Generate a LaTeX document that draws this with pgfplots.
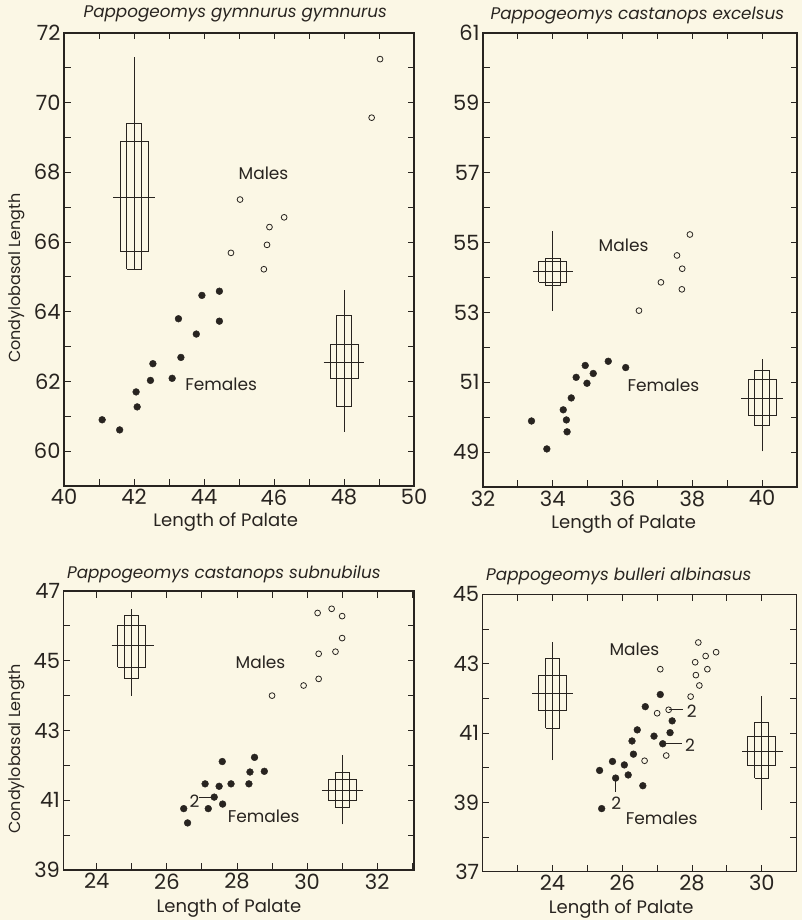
\documentclass[border=0pt]{standalone}
\usepackage{fontspec}
\setmainfont{Poppins}
\usepackage{pgfplots}
\pgfplotsset{compat=1.18}
\definecolor{paper}{RGB}{251,247,229}
\definecolor{ink}{RGB}{40,36,32}
\pgfplotsset{
  panel/.style={
    scale only axis, anchor=south west,
    axis line style={ink, line width=1.1pt},
    every tick/.style={ink, line width=0.9pt},
    major tick length=6.5pt, minor tick length=6.5pt,
    tick align=inside,
    /pgf/number format/assume math mode=true,
    tick label style={font=\fontsize{21}{23}\selectfont, text=ink},
    xlabel style={font=\fontsize{18}{20}\selectfont, text=ink},
    ylabel style={font=\fontsize{16}{18}\selectfont, text=ink},
    title style={font=\fontsize{16.8}{19}\selectfont\itshape, text=ink, anchor=base west},
  },
  fem/.style={only marks, mark=*, mark size=3.4pt, color=ink, mark options={fill=ink, draw=ink}},
  mal/.style={only marks, mark=o, mark size=2.9pt, color=ink, mark options={line width=0.8pt}},
  dh/.style={color=ink, line width=0.9pt, no marks},
}
\newcommand{\lab}{\fontsize{17}{20}\selectfont\color{ink}}
\begin{document}
\begin{tikzpicture}
\path[use as bounding box, fill=paper] (0,0) rectangle (802pt,920pt);

% ---------- Panel 1
\begin{axis}[panel, at={(64pt,434pt)}, width=350pt, height=453pt,
  xmin=40, xmax=50, ymin=59, ymax=72,
  xtick={40,42,...,50}, minor xtick={41,43,...,49},
  ytick={60,62,...,72}, minor ytick={59,61,...,71},
  title={Pappogeomys gymnurus gymnurus},
  title style={at={([xshift=16pt,yshift=9pt]axis description cs:0,1)}},
  xlabel={Length of Palate},
  xlabel style={at={([yshift=-40.7pt]axis description cs:0.462,0)}, anchor=base},
  ylabel={Condylobasal Length},
  ylabel style={at={([xshift=-47pt]axis description cs:0,0.459)}, anchor=center}]
\addplot[mal] coordinates {(49.03,71.25) (48.79,69.57) (45.03,67.22) (46.29,66.71) (45.87,66.43) (44.77,65.69) (45.80,65.92) (45.71,65.22)};
\addplot[fem] coordinates {(41.09,60.90) (41.59,60.61) (42.06,61.70) (42.09,61.27) (42.47,62.03) (42.54,62.51) (43.09,62.09) (43.34,62.69) (43.27,63.80) (43.78,63.36) (43.94,64.47) (44.44,64.59) (44.44,63.73)};
% males box
\addplot[dh] coordinates {(42,65.22) (42,71.30)};
\addplot[dh] coordinates {(41.4,67.28) (42.6,67.28)};
\addplot[dh] coordinates {(41.6,65.73) (42.4,65.73) (42.4,68.89) (41.6,68.89) (41.6,65.73)};
\addplot[dh] coordinates {(41.79,65.22) (42.21,65.22) (42.21,69.39) (41.79,69.39) (41.79,65.22)};
% females box
\addplot[dh] coordinates {(48,60.56) (48,64.63)};
\addplot[dh] coordinates {(47.42,62.55) (48.58,62.55)};
\addplot[dh] coordinates {(47.6,62.08) (48.4,62.08) (48.4,63.05) (47.6,63.05) (47.6,62.08)};
\addplot[dh] coordinates {(47.79,61.28) (48.21,61.28) (48.21,63.88) (47.79,63.88) (47.79,61.28)};
\node[font=\lab] at (axis cs:45.7,67.98) {Males};
\node[font=\lab] at (axis cs:44.49,61.91) {Females};
\end{axis}

% ---------- Panel 2
\begin{axis}[panel, at={(483pt,433pt)}, width=314pt, height=454pt,
  xmin=32, xmax=41, ymin=48, ymax=61,
  xtick={32,34,...,40}, minor xtick={33,35,...,41},
  ytick={49,51,...,61}, minor ytick={48,50,...,60},
  title={Pappogeomys castanops excelsus},
  title style={at={([xshift=4pt,yshift=7pt]axis description cs:0,1)}},
  xlabel={Length of Palate},
  xlabel style={at={([yshift=-41.3pt]axis description cs:0.448,0)}, anchor=base}]
\addplot[mal] coordinates {(37.93,55.23) (37.56,54.63) (37.71,54.25) (37.10,53.86) (37.70,53.66) (36.47,53.05)};
\addplot[fem] coordinates {(33.39,49.89) (33.83,49.09) (34.30,50.21) (34.39,49.92) (34.41,49.58) (34.53,50.55) (34.67,51.14) (34.93,51.48) (34.98,50.97) (35.16,51.25) (35.59,51.60) (36.09,51.42)};
\addplot[dh] coordinates {(34,53.04) (34,55.32)};
\addplot[dh] coordinates {(33.42,54.16) (34.58,54.16)};
\addplot[dh] coordinates {(33.6,53.87) (34.4,53.87) (34.4,54.46) (33.6,54.46) (33.6,53.87)};
\addplot[dh] coordinates {(33.79,53.76) (34.21,53.76) (34.21,54.55) (33.79,54.55) (33.79,53.76)};
\addplot[dh] coordinates {(40,49.02) (40,51.66)};
\addplot[dh] coordinates {(39.4,50.54) (40.6,50.54)};
\addplot[dh] coordinates {(39.6,50.04) (40.4,50.04) (40.4,51.08) (39.6,51.08) (39.6,50.04)};
\addplot[dh] coordinates {(39.79,49.76) (40.21,49.76) (40.21,51.35) (39.79,51.35) (39.79,49.76)};
\node[font=\lab] at (axis cs:36.03,54.91) {Males};
\node[font=\lab] at (axis cs:37.17,50.92) {Females};
\end{axis}

% ---------- Panel 3
\begin{axis}[panel, at={(63.5pt,50pt)}, width=350.5pt, height=279pt,
  xmin=23.05, xmax=33.05, ymin=39, ymax=47,
  xtick={24,26,...,32}, minor xtick={25,27,...,33},
  ytick={39,41,...,47}, minor ytick={40,42,...,46},
  title={Pappogeomys castanops subnubilus},
  title style={at={([xshift=0pt,yshift=7pt]axis description cs:0,1)}},
  xlabel={Length of Palate},
  xlabel style={at={([yshift=-42.5pt]axis description cs:0.472,0)}, anchor=base},
  ylabel={Condylobasal Length},
  ylabel style={at={([xshift=-46.5pt]axis description cs:0,0.434)}, anchor=center}]
\addplot[mal] coordinates {(30.30,46.37) (30.70,46.49) (31.00,46.28) (31.00,45.65) (30.33,45.20) (30.81,45.26) (30.33,44.48) (29.90,44.29) (29.00,44.00)};
\addplot[fem] coordinates {(26.48,40.76) (26.59,40.35) (27.09,41.47) (27.35,41.09) (27.18,40.76) (27.49,41.40) (27.58,42.11) (27.59,40.89) (27.83,41.47) (28.34,41.47) (28.37,41.81) (28.50,42.23) (28.78,41.83)};
\addplot[dh] coordinates {(25,44.00) (25,46.49)};
\addplot[dh] coordinates {(24.42,45.43) (25.62,45.43)};
\addplot[dh] coordinates {(24.6,44.81) (25.4,44.81) (25.4,46.01) (24.6,46.01) (24.6,44.81)};
\addplot[dh] coordinates {(24.8,44.48) (25.2,44.48) (25.2,46.29) (24.8,46.29) (24.8,44.48)};
\addplot[dh] coordinates {(31,40.31) (31,42.29)};
\addplot[dh] coordinates {(30.42,41.29) (31.6,41.29)};
\addplot[dh] coordinates {(30.6,40.98) (31.4,40.98) (31.4,41.60) (30.6,41.60) (30.6,40.98)};
\addplot[dh] coordinates {(30.8,40.80) (31.2,40.80) (31.2,41.81) (30.8,41.81) (30.8,40.80)};
\addplot[dh] coordinates {(26.93,41.09) (27.35,41.09)};
\node[font=\lab] at (axis cs:26.79,40.98) {2};
\node[font=\lab] at (axis cs:28.67,44.95) {Males};
\node[font=\lab] at (axis cs:28.76,40.55) {Females};
\end{axis}

% ---------- Panel 4
\begin{axis}[panel, at={(482.7pt,48.3pt)}, width=314pt, height=277.4pt,
  xmin=22, xmax=31, ymin=37, ymax=45,
  xtick={24,26,28,30}, minor xtick={23,25,27,29},
  ytick={37,39,...,45}, minor ytick={38,40,...,44},
  title={Pappogeomys bulleri albinasus},
  title style={at={([xshift=0pt,yshift=8pt]axis description cs:0,1)}},
  xlabel={Length of Palate},
  xlabel style={at={([yshift=-41.5pt]axis description cs:0.441,0)}, anchor=base}]
\addplot[mal] coordinates {(28.18,43.61) (28.69,43.33) (28.39,43.22) (28.09,43.04) (28.44,42.84) (28.11,42.67) (28.21,42.37) (27.09,42.84) (27.96,42.05) (27.00,41.57) (27.33,41.67) (26.64,40.20) (27.26,40.35)};
\addplot[fem] coordinates {(27.09,42.11) (26.66,41.76) (27.43,41.35) (26.43,41.09) (27.37,41.01) (26.91,40.91) (26.28,40.77) (27.16,40.69) (26.32,40.39) (25.72,40.18) (26.06,40.08) (25.35,39.92) (26.17,39.79) (25.81,39.70) (26.59,39.48) (25.41,38.82)};
\addplot[dh] coordinates {(24,40.22) (24,43.63)};
\addplot[dh] coordinates {(23.42,42.13) (24.58,42.13)};
\addplot[dh] coordinates {(23.6,41.64) (24.4,41.64) (24.4,42.65) (23.6,42.65) (23.6,41.64)};
\addplot[dh] coordinates {(23.8,41.14) (24.2,41.14) (24.2,43.14) (23.8,43.14) (23.8,41.14)};
\addplot[dh] coordinates {(30,38.78) (30,42.07)};
\addplot[dh] coordinates {(29.44,40.48) (30.6,40.48)};
\addplot[dh] coordinates {(29.6,40.05) (30.4,40.05) (30.4,40.90) (29.6,40.90) (29.6,40.05)};
\addplot[dh] coordinates {(29.8,39.70) (30.2,39.70) (30.2,41.30) (29.8,41.30) (29.8,39.70)};
\addplot[dh] coordinates {(27.33,41.67) (27.75,41.67)};
\addplot[dh] coordinates {(27.16,40.69) (27.70,40.69)};
\addplot[dh] coordinates {(25.81,39.70) (25.81,39.30)};
\node[font=\lab] at (axis cs:27.99,41.62) {2};
\node[font=\lab] at (axis cs:27.94,40.66) {2};
\node[font=\lab] at (axis cs:25.83,38.96) {2};
\node[font=\lab] at (axis cs:26.35,43.42) {Males};
\node[font=\lab] at (axis cs:27.13,38.54) {Females};
\end{axis}
\end{tikzpicture}
\end{document}
